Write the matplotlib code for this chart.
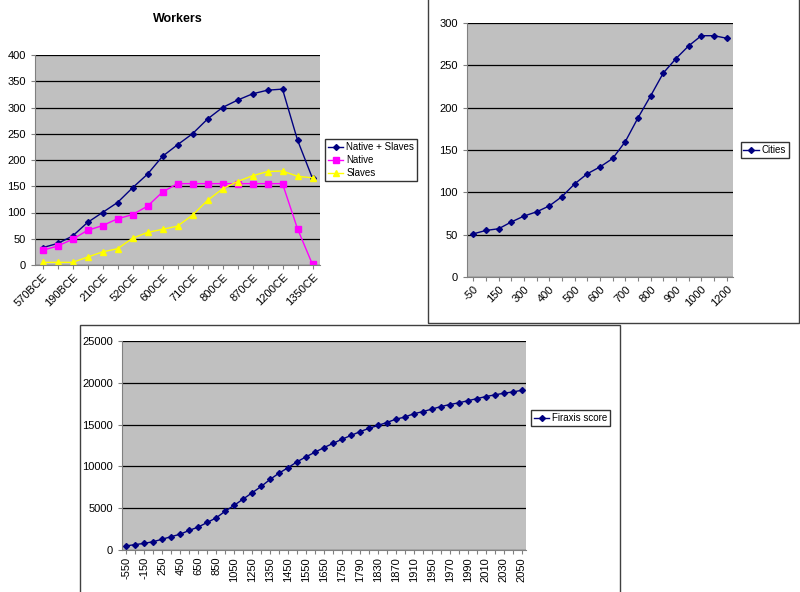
import matplotlib.pyplot as plt
from matplotlib.patches import Rectangle

W, H = 800, 592

# Workers
worker_labels = ["570BCE", "", "190BCE", "", "210CE", "", "520CE", "", "600CE", "",
                 "710CE", "", "800CE", "", "870CE", "", "1200CE", "", "1350CE"]
native_slaves = [33, 41, 55, 81, 100, 119, 147, 173, 207, 229, 250, 278, 300, 314, 326, 333, 335, 238, 165]
native = [28, 36, 49, 66, 75, 88, 96, 112, 139, 155, 155, 155, 155, 155, 155, 155, 155, 69, 1]
slaves = [5, 5, 5, 15, 25, 31, 51, 62, 68, 74, 95, 123, 145, 159, 170, 178, 179, 169, 166]

# Cities
city_labels = ["-50", "", "150", "", "300", "", "400", "", "500", "", "600", "", "700", "",
               "800", "", "900", "", "1000", "", "1200"]
cities = [51, 55, 57, 65, 72, 77, 84, 95, 110, 122, 130, 140, 160, 188, 214, 241, 258, 273, 285, 285, 282]

# Firaxis score
score_labels = ["-550", "-150", "250", "450", "650", "850", "1050", "1250", "1350", "1450", "1550",
                "1650", "1750", "1790", "1830", "1870", "1910", "1950", "1970", "1990", "2010",
                "2030", "2050"]
score = [500, 650, 800, 1000, 1300, 1600, 1900, 2350, 2750, 3300, 3850, 4650, 5350, 6100, 6850,
         7600, 8450, 9200, 9850, 10550, 11150, 11700, 12250, 12750, 13250, 13700, 14150, 14550,
         14900, 15250, 15650, 15900, 16300, 16550, 16850, 17150, 17400, 17600, 17850, 18100,
         18350, 18550, 18750, 18900, 19100]

NAVY, PINK, YEL, GREY = "#000080", "#ff00ff", "#ffff00", "#c0c0c0"
plt.rcParams["font.family"] = "Liberation Sans"

fig = plt.figure(figsize=(W / 100, H / 100), dpi=100, facecolor="white")


def box(x0, y0, x1, y1):
    return [x0 / W, 1 - y1 / H, (x1 - x0) / W, (y1 - y0) / H]


# panel borders (Cities and Firaxis screenshots)
for x0, y0, x1, y1 in [(428, -2, 799, 323), (80, 325, 620, 600)]:
    fig.patches.append(Rectangle((x0 / W, 1 - y1 / H), (x1 - x0) / W, (y1 - y0) / H,
                                 transform=fig.transFigure, fill=False, ec="#404040", lw=1))


def style(ax, ymax, step):
    ax.set_facecolor(GREY)
    ax.set_ylim(0, ymax)
    ax.set_yticks(range(0, ymax + 1, step))
    ax.yaxis.grid(True, color="black", lw=0.9)
    ax.set_axisbelow(True)
    for s in ["top", "right"]:
        ax.spines[s].set_visible(False)
    ax.spines["left"].set_color("#808080")
    ax.spines["bottom"].set_color("#808080")
    ax.tick_params(labelsize=8, length=3, color="#808080")
    ax.tick_params(axis="x", pad=2)


LEG = dict(fontsize=7, frameon=True, fancybox=False, edgecolor="black",
           handlelength=1.6, handletextpad=0.3, borderpad=0.3, labelspacing=0.3)

# Workers
ax1 = fig.add_axes(box(35, 55, 320, 265))
x = range(len(native_slaves))
ax1.plot(x, native_slaves, "-D", color=NAVY, ms=3, lw=1, label="Native + Slaves")
ax1.plot(x, native, "-s", color=PINK, ms=4, lw=1, label="Native")
ax1.plot(x, slaves, "-^", color=YEL, ms=4, lw=1, label="Slaves")
style(ax1, 400, 50)
ax1.set_xlim(-0.5, len(native_slaves) - 0.5)
ax1.set_xticks(list(x))
ax1.set_xticklabels(worker_labels, rotation=45, ha="right", rotation_mode="anchor")
ax1.set_title("Workers", fontsize=9, weight="bold", pad=24)
ax1.legend(loc="center left", bbox_to_anchor=(1.0, 0.5), **LEG)

# Cities
ax2 = fig.add_axes(box(467, 23, 733, 277))
x = range(len(cities))
ax2.plot(x, cities, "-D", color=NAVY, ms=3, lw=1, label="Cities")
style(ax2, 300, 50)
ax2.set_xlim(-0.5, len(cities) - 0.5)
ax2.set_xticks(list(x))
ax2.set_xticklabels(city_labels, rotation=45, ha="right", rotation_mode="anchor")
ax2.legend(loc="center left", bbox_to_anchor=(1.01, 0.5), **LEG)

# Firaxis score
ax3 = fig.add_axes(box(122, 341, 526, 550))
x = range(len(score))
ax3.plot(x, score, "-D", color=NAVY, ms=3, lw=1, label="Firaxis score")
style(ax3, 25000, 5000)
ax3.set_xlim(-0.5, len(score) - 0.5)
ax3.set_xticks(list(x))
ax3.set_xticklabels([score_labels[i // 2] if i % 2 == 0 else "" for i in x], rotation=90)
ax3.legend(loc="center left", bbox_to_anchor=(1.0, 0.63), **LEG)

fig.savefig("out.png", dpi=100, facecolor="white")
